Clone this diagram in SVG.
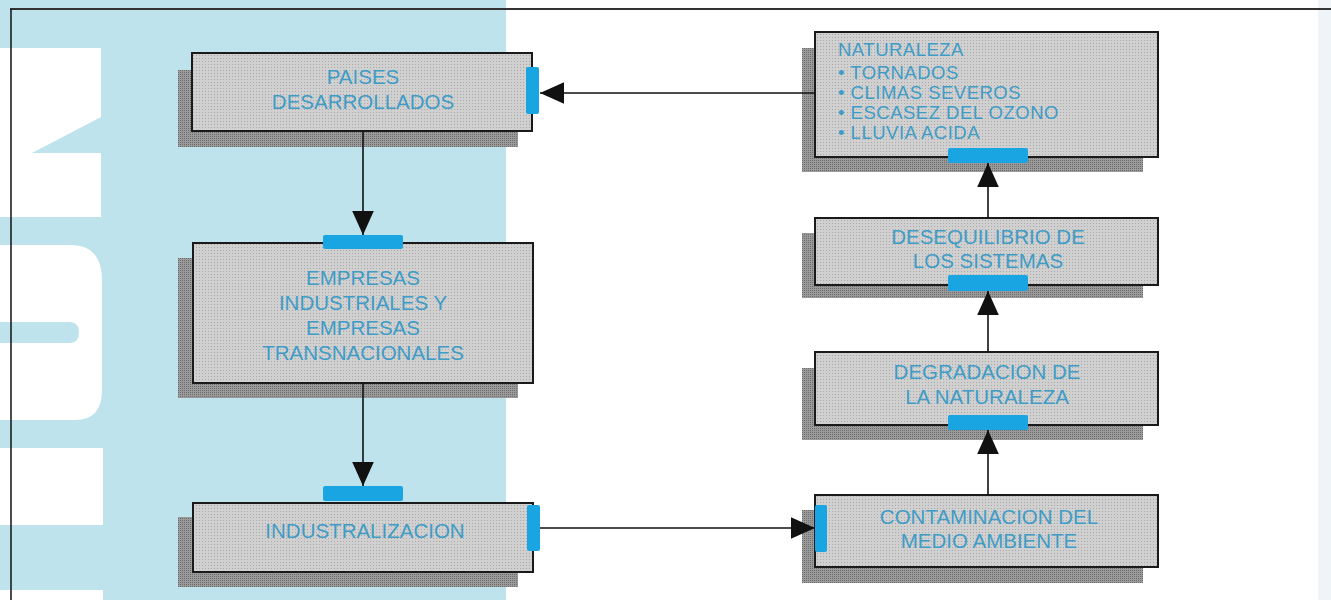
<svg xmlns="http://www.w3.org/2000/svg" width="1331" height="600" viewBox="0 0 1331 600">
<defs>
<pattern id="dots" width="3" height="3" patternUnits="userSpaceOnUse">
<rect width="3" height="3" fill="#d0d0d0"/>
<rect x="1" y="1" width="1" height="1" fill="#a9a9a9"/>
</pattern>
<pattern id="sdots" width="2" height="2" patternUnits="userSpaceOnUse">
<rect width="2" height="2" fill="#9a9a9a"/>
<rect width="1" height="1" fill="#6e6e6e"/>
</pattern>
<marker id="ah" viewBox="0 0 10 10" refX="10" refY="5" markerWidth="24" markerHeight="24" markerUnits="userSpaceOnUse" orient="auto">
<path d="M0,0.5 L10,5 L0,9.5 z" fill="#111"/>
</marker>
<style>
.sh{fill:url(#sdots);}
.bx{fill:url(#dots);stroke:#1a1a1a;stroke-width:2;}
.tab{fill:#19a4e2;}
.t{font-family:"Liberation Sans",Arial,sans-serif;font-size:20.5px;fill:#3f9cc6;text-anchor:middle;}
.tl{font-family:"Liberation Sans",Arial,sans-serif;font-size:18.5px;letter-spacing:0.5px;fill:#3f9cc6;}
.cn{stroke:#111;stroke-width:1.6;fill:none;}
</style>
</defs>
<rect width="1331" height="600" fill="#ffffff"/>
<g id="background">
<rect x="0" y="0" width="506" height="600" fill="#bfe3ed"/>
<path d="M0,48 H101 V217 H0 Z M32,153 L101,117 V153 Z" fill="#ffffff" fill-rule="evenodd"/>
<path d="M0,245 H70 Q102,245 102,280 V390 Q102,420 75,420 H0 Z M0,322 V343 H70 Q79,343 79,332.5 Q79,322 70,322 Z" fill="#ffffff" fill-rule="evenodd"/>
<rect x="0" y="448" width="103" height="77" fill="#ffffff"/>
<rect x="0" y="590" width="103" height="10" fill="#ffffff"/>
<rect x="1318" y="0" width="13" height="600" fill="#eef4f8"/>
<line x1="10" y1="9" x2="1331" y2="9" stroke="#333" stroke-width="2"/>
<line x1="11" y1="9" x2="11" y2="600" stroke="#111" stroke-width="1.5"/>
</g>
<g id="paises">
<rect class="sh" x="178" y="70" width="340" height="77"/>
<rect class="bx" x="192" y="53" width="340" height="78"/>
<rect class="tab" x="526" y="67" width="13" height="47" rx="2"/>
<text class="t" x="363" y="84">PAISES</text>
<text class="t" x="363" y="109">DESARROLLADOS</text>
</g>
<g id="empresas">
<rect class="sh" x="178" y="258" width="340" height="140"/>
<rect class="bx" x="193" y="243" width="340" height="140"/>
<rect class="tab" x="323" y="235" width="80" height="14" rx="2"/>
<text class="t" x="363" y="285">EMPRESAS</text>
<text class="t" x="363" y="310">INDUSTRIALES Y</text>
<text class="t" x="363" y="335">EMPRESAS</text>
<text class="t" x="363" y="360">TRANSNACIONALES</text>
</g>
<g id="industralizacion">
<rect class="sh" x="178" y="517" width="340" height="70"/>
<rect class="bx" x="193" y="503" width="340" height="69"/>
<rect class="tab" x="323" y="486" width="80" height="15" rx="2"/>
<rect class="tab" x="527" y="505" width="13" height="46" rx="2"/>
<text class="t" x="365" y="538">INDUSTRALIZACION</text>
</g>
<g id="contaminacion">
<rect class="sh" x="802" y="510" width="341" height="73"/>
<rect class="bx" x="815" y="495" width="343" height="72"/>
<rect class="tab" x="815" y="505" width="12" height="47" rx="2"/>
<text class="t" x="989" y="524">CONTAMINACION DEL</text>
<text class="t" x="989" y="548">MEDIO AMBIENTE</text>
</g>
<g id="degradacion">
<rect class="sh" x="802" y="368" width="341" height="72"/>
<rect class="bx" x="815" y="352" width="343" height="73"/>
<rect class="tab" x="948" y="415" width="80" height="15" rx="2"/>
<text class="t" x="987" y="379">DEGRADACION DE</text>
<text class="t" x="987" y="404">LA NATURALEZA</text>
</g>
<g id="desequilibrio">
<rect class="sh" x="802" y="233" width="341" height="65"/>
<rect class="bx" x="815" y="218" width="343" height="67"/>
<rect class="tab" x="948" y="275" width="80" height="16" rx="2"/>
<text class="t" x="988" y="244">DESEQUILIBRIO DE</text>
<text class="t" x="988" y="268">LOS SISTEMAS</text>
</g>
<g id="naturaleza">
<rect class="sh" x="802" y="48" width="341" height="124"/>
<rect class="bx" x="815" y="32" width="343" height="125"/>
<rect class="tab" x="948" y="148" width="80" height="15" rx="2"/>
<text class="tl" x="838" y="56">NATURALEZA</text>
<text class="tl" x="838" y="79">• TORNADOS</text>
<text class="tl" x="838" y="99">• CLIMAS SEVEROS</text>
<text class="tl" x="838" y="119">• ESCASEZ DEL OZONO</text>
<text class="tl" x="838" y="139">• LLUVIA ACIDA</text>
</g>
<g id="connectors">
<line class="cn" x1="815" y1="93" x2="540" y2="93" marker-end="url(#ah)"/>
<line class="cn" x1="363" y1="131" x2="363" y2="235" marker-end="url(#ah)"/>
<line class="cn" x1="363" y1="383" x2="363" y2="486" marker-end="url(#ah)"/>
<line class="cn" x1="540" y1="528" x2="815" y2="528" marker-end="url(#ah)"/>
<line class="cn" x1="988" y1="495" x2="988" y2="430" marker-end="url(#ah)"/>
<line class="cn" x1="988" y1="352" x2="988" y2="291" marker-end="url(#ah)"/>
<line class="cn" x1="988" y1="218" x2="988" y2="163" marker-end="url(#ah)"/>
</g>
</svg>
